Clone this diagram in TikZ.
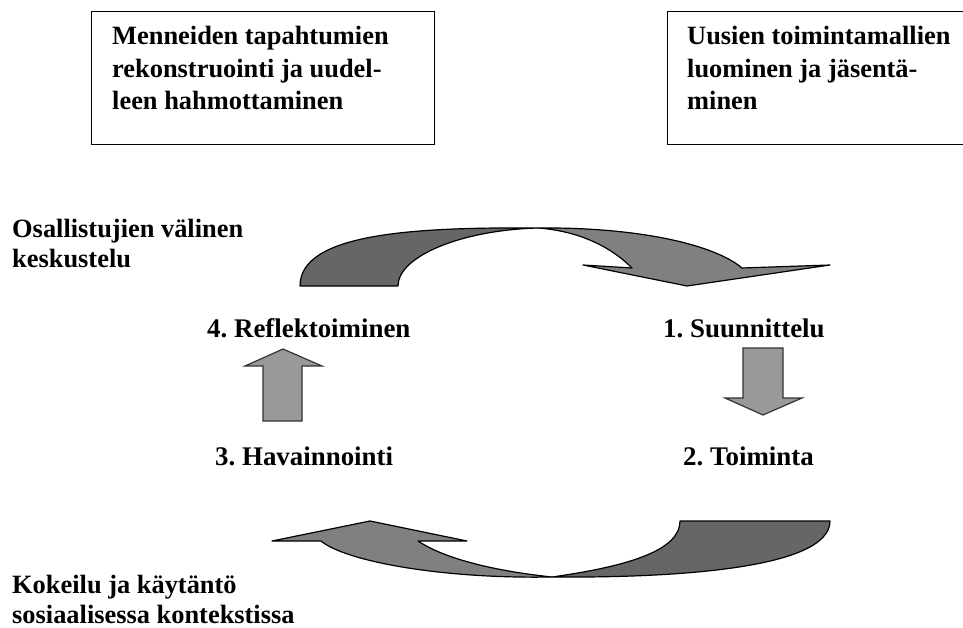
\documentclass[tikz,border=0pt]{standalone}
\usepackage{fontspec}
\setmainfont{Liberation Serif}
\frenchspacing
\begin{document}
\begin{tikzpicture}[x=1pt,y=-1pt,
  lbl/.style={inner sep=0pt, anchor=base west, align=left,
    font=\bfseries\fontsize{26.4}{32.5}\selectfont},
  sidelbl/.style={lbl, font=\bfseries\fontsize{26.4}{30}\selectfont},
  cyclbl/.style={lbl, font=\bfseries\fontsize{26.9}{32}\selectfont},
  boxstyle/.style={draw=black, line width=1.4pt, inner sep=0pt, anchor=north west},
  darkpart/.style={fill=darkfill, draw=black, line width=1.2pt, line join=round},
  lightpart/.style={fill=lightfill, draw=black, line width=1.2pt, line join=round},
  smallarrow/.style={fill=smallfill, draw=outline, line width=1.2pt, line join=miter}]
\definecolor{darkfill}{HTML}{666666}
\definecolor{lightfill}{HTML}{808080}
\definecolor{smallfill}{HTML}{999999}
\definecolor{outline}{HTML}{333333}
\useasboundingbox (0,0) rectangle (963,628);
\clip (0,0) rectangle (963,628);

% boxes
\node[boxstyle, minimum width=343pt, minimum height=133pt] (pastbox) at (91,11) {};
\node[boxstyle, minimum width=330pt, minimum height=133pt] (newbox) at (667,11) {};
% multi-line nodes: base anchor sits on the last line
\node[lbl] (pasttext) at (112,110) {Menneiden tapahtumien\\rekonstruointi ja uudel-\\leen hahmottaminen};
\node[lbl] (newtext) at (687,110) {Uusien toimintamallien\\luominen ja jäsentä-\\minen};

% side labels
\node[sidelbl] (discussion) at (12,268) {Osallistujien välinen\\keskustelu};
\node[sidelbl] (practice) at (12,623) {Kokeilu ja käytäntö\\sosiaalisessa kontekstissa};

% cycle labels
\node[cyclbl] (reflect) at (207,337) {4. Reflektoiminen};
\node[cyclbl] (plan) at (663,337) {1. Suunnittelu};
\node[cyclbl] (observe) at (215,465) {3. Havainnointi};
\node[cyclbl] (act) at (683,465) {2. Toiminta};

% top curved arrow
\coordinate (topapex) at (538,228);
\path[darkpart] (300,286) .. controls (300,234) and (410,227) .. (topapex)
  .. controls (462,230) and (398,256) .. (398,286) -- cycle;
\path[lightpart] (topapex) .. controls (640,227) and (715,245) .. (742,268)
  -- (830,265) -- (687,286) -- (583,265) -- (632,268)
  .. controls (610,246) and (578,231) .. (topapex) -- cycle;

% bottom curved arrow
\coordinate (botapex) at (552,577);
\path[darkpart] (680,521) -- (830,521) .. controls (830,568) and (680,578) .. (botapex)
  .. controls (630,566) and (680,550) .. (680,521) -- cycle;
\path[lightpart] (botapex) .. controls (440,579) and (345,561) .. (321,541)
  -- (272,541) -- (370,521) -- (467,541) -- (418,541)
  .. controls (445,559) and (495,571) .. (botapex) -- cycle;

% straight arrows
\path[smallarrow] (263,421) -- (263,366) -- (245,366) -- (283,349) -- (322,366)
  -- (302,366) -- (302,421) -- cycle;
\path[smallarrow] (743,348) -- (783,348) -- (783,398) -- (802,398) -- (763,415)
  -- (725,398) -- (743,398) -- cycle;
\end{tikzpicture}
\end{document}
